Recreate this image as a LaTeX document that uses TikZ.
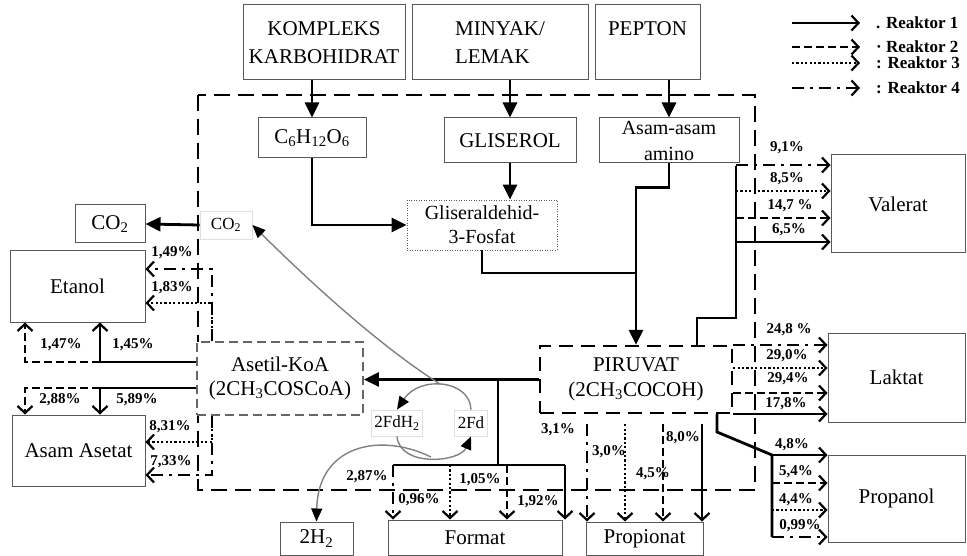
\documentclass[tikz,border=0pt]{standalone}
\usepackage{fontspec}
\setmainfont{Liberation Serif}
\usetikzlibrary{arrows.meta}

\tikzset{
  box/.style={draw=black!65, line width=1pt, fill=white, inner sep=1pt, align=center,
    font=\fontsize{21}{24}\selectfont},
  faint/.style={draw=black!12, line width=0.8pt, fill=white, inner sep=3pt,
    font=\fontsize{17}{20}\selectfont},
  tebal/.style={line width=2.8pt},
  flow/.style={tebal, -{Triangle[length=15pt,width=14pt]}},
  rk1/.style={line width=2.6pt, -{Straight Barb[length=7pt,width=15pt,line width=2.2pt]}},
  rk2/.style={rk1, dash pattern=on 8pt off 4pt},
  rk3/.style={rk1, dash pattern=on 2.2pt off 2.2pt},
  rk4/.style={rk1, dash pattern=on 12pt off 6pt on 3pt off 6pt},
  pct/.style={font=\fontsize{15}{15}\bfseries\selectfont, inner sep=0pt},
  legtext/.style={font=\fontsize{17}{17}\bfseries\selectfont, inner sep=0pt, anchor=west},
  curv/.style={draw=black!50, line width=1.4pt, -{Triangle[length=13pt,width=11pt,color=black]}},
}

\begin{document}
\begin{tikzpicture}[x=1pt, y=-1pt]
\useasboundingbox (0,0) rectangle (967,556);

% --- Parameters ---
\def\xa{25}    % Reaktor 2 branch, left side
\def\xb{100}   % Reaktor 1 branch, left side
\def\xc{212}   % Reaktor 3/4 branch, left side

% --- Reactor boundary ---
\draw[line width=2.6pt, dash pattern=on 16pt off 8pt] (198,95) rectangle (755,490);

% --- Substrates ---
\node[box, minimum width=162pt, minimum height=75pt, font=\fontsize{21}{28}\selectfont]
  (kompleks) at (324,42.5) {KOMPLEKS\\KARBOHIDRAT};
\node[box, minimum width=176pt, minimum height=75pt, align=left, font=\fontsize{21}{28}\selectfont]
  (minyak) at (500,42.5) {MINYAK/\\LEMAK};
\node[box, minimum width=105pt, minimum height=75pt, font=\fontsize{21}{28}\selectfont]
  (pepton) at (647.5,42.5) {PEPTON\\\mbox{}};

% --- Intermediates ---
\node[box, minimum width=108pt, minimum height=40pt] (c6) at (312,138)
  {C\textsubscript{6}H\textsubscript{12}O\textsubscript{6}};
\node[box, minimum width=132pt, minimum height=45pt] (gliserol) at (510,140.5) {GLISEROL};
\node[box, minimum width=140pt, minimum height=45pt, inner sep=0pt, font=\fontsize{20}{26}\selectfont]
  (amino) at (669,140.5) {Asam-asam\\amino};
\node[box, minimum width=150pt, minimum height=50pt, line width=0.9pt, dash pattern=on 1pt off 1.5pt,
  font=\fontsize{20}{24}\selectfont] (glis3) at (482,225) {Gliseraldehid-\\3-Fosfat};
\node[faint, minimum width=52pt, minimum height=28pt] (co2in) at (226,225) {CO\textsubscript{2}};
\node[box, draw=black!60, line width=1.8pt, dash pattern=on 9pt off 5pt, minimum width=166pt,
  minimum height=73pt] (asetil) at (280,378.5) {Asetil-KoA\\(2CH\textsubscript{3}COSCoA)};
\node[box, draw=black, line width=2.4pt, dash pattern=on 14pt off 8pt, minimum width=192pt,
  minimum height=67pt, font=\fontsize{21}{25}\selectfont] (piruvat) at (636,379.5)
  {PIRUVAT\\(2CH\textsubscript{3}COCOH)};
\node[faint, minimum height=26pt] (fdh2) at (397,423) {2FdH\textsubscript{2}};
\node[faint, minimum height=26pt] (fd) at (471,423) {2Fd};

% --- Products ---
\node[box, minimum width=70pt, minimum height=38pt] (co2out) at (110,224) {CO\textsubscript{2}};
\node[box, minimum width=135pt, minimum height=71pt] (etanol) at (77.5,286.5) {Etanol};
\node[box, minimum width=133pt, minimum height=71pt] (asetat) at (78.5,450.5) {Asam Asetat};
\node[box, minimum width=134pt, minimum height=98pt] (valerat) at (898,204) {Valerat};
\node[box, minimum width=137pt, minimum height=89pt] (laktat) at (896.5,377.5) {Laktat};
\node[box, minimum width=137pt, minimum height=87pt] (propanol) at (896.5,498.5) {Propanol};
\node[box, minimum width=73pt, minimum height=33pt] (h2) at (316.5,538.5) {2H\textsubscript{2}};
\node[box, minimum width=174pt, minimum height=35pt] (format) at (475,537.5) {Format};
\node[box, minimum width=117pt, minimum height=33pt] (propionat) at (644.5,538.5) {Propionat};

% --- Main flow ---
\draw[flow] (c6.north |- kompleks.south) -- (c6.north);
\draw[flow] (gliserol.north |- minyak.south) -- (gliserol.north);
\draw[flow] (amino.north |- pepton.south) -- (amino.north);
\draw[flow] (gliserol.south) -- (gliserol.south |- glis3.north);
\draw[flow] (c6.south) |- (glis3.west);
\draw[flow] (amino.south) -- ++(0,24) -| (piruvat.north);
\draw[tebal] (glis3.south) |- (piruvat.north |- 0,273);
\draw[flow] (piruvat.west) -- (piruvat.west -| asetil.east);
\draw[flow] (co2in.west) -- (co2out.east);

% --- Branch to Format ---
\coordinate (cabang) at (498,465);
\coordinate (fkiri) at (393,465);
\coordinate (fkanan) at (565,465);
\draw[tebal] (piruvat.west -| cabang) -- (cabang);
\draw[tebal] (fkiri) -- (fkanan);
\foreach \x/\st in {393/rk4, 450/rk3, 507/rk2, 565/rk1}
  \draw[\st] (fkiri -| \x,0) -- (format.north -| \x,0);

% --- Branch to Propionat ---
\foreach \x/\st in {587/rk4, 625/rk3, 663/rk2, 702/rk1}
  \draw[\st, shorten <=10pt] (piruvat.south -| \x,0) -- (propionat.north -| \x,0);

% --- Branch to Propanol ---
\coordinate (ppn) at (772,455);
\draw[tebal] (piruvat.south -| 717,0) -- (717,432) -- (ppn) -- (772,537);
\foreach \y/\st in {455/rk1, 483/rk2, 510/rk3, 537/rk4}
  \draw[\st] (ppn |- 0,\y) -- (propanol.west |- 0,\y);

% --- Branch to Laktat ---
\foreach \y/\st in {345/rk4, 368/rk3, 393/rk2, 414/rk1}
  \draw[\st] (piruvat.east |- 0,\y) -- (laktat.west |- 0,\y);

% --- Branch to Valerat ---
\coordinate (vsrc) at (736,166);
\draw[tebal] (piruvat.north -| 697,0) |- (736,318) -- (vsrc);
\foreach \y/\st in {165/rk4, 191/rk3, 218/rk2, 242/rk1}
  \draw[\st] (vsrc |- 0,\y) -- (valerat.west |- 0,\y);

% --- Asetil-KoA to Etanol and Asam Asetat ---
\draw[rk1] (asetil.west |- 0,362) -| (etanol.south -| \xb,0);
\draw[rk2] (\xb,362) -| (etanol.south -| \xa,0);
\draw[rk1] (asetil.west |- 0,388) -| (asetat.north -| \xb,0);
\draw[rk2] (\xb,388) -| (asetat.north -| \xa,0);
\draw[rk4] (asetil.north -| \xc,0) |- (etanol.east |- 0,269);
\draw[rk3] (asetil.north -| \xc,0) |- (etanol.east |- 0,303);
\draw[rk3] (asetil.south -| \xc,0) |- (asetat.east |- 0,442);
\draw[rk4] (asetil.south -| \xc,0) |- (asetat.east |- 0,475);

% --- Ferredoxin cycle ---
\coordinate (fdatas) at (440,384);
\coordinate (fdbawah) at (431,457);
\draw[curv] (fd.north) .. controls (470,380) and (420,375) .. (fdh2.north);
\draw[curv] (fdh2.south) .. controls (400,468) and (460,462) .. (fd.south);
\draw[curv] (fdatas) .. controls (370,340) and (290,262) .. (co2in.east);
\draw[curv] (fdbawah) .. controls (380,432) and (318,445) .. (h2.north);

% --- Percentages ---
\foreach \i/\x/\y/\lab in {
    1/787/148/{9,1\%}, 2/787/179/{8,5\%}, 3/790/206/{14,7 \%}, 4/789/230/{6,5\%},
    5/789/330/{24,8 \%}, 6/787/356/{29,0\%}, 7/788/379/{29,4\%}, 8/786/404/{17,8\%},
    9/792/445/{4,8\%}, 10/796/472/{5,4\%}, 11/796/500/{4,4\%}, 12/800/526/{0,99\%},
    13/558/430/{3,1\%}, 14/609/452/{3,0\%}, 15/653/474/{4,5\%}, 16/683/438/{8,0\%},
    17/367/477/{2,87\%}, 18/419/500/{0,96\%}, 19/480/480/{1,05\%}, 20/538/502/{1,92\%},
    21/172/253/{1,49\%}, 22/172/288/{1,83\%}, 23/61/345/{1,47\%}, 24/133/345/{1,45\%},
    25/60/400/{2,88\%}, 26/137/400/{5,89\%}, 27/170/427/{8,31\%}, 28/171/462/{7,33\%}}
  \node[pct] (p\i) at (\x,\y) {\lab};

% --- Legend ---
\foreach \i/\y/\st/\lab in {1/23/rk1/{. Reaktor 1}, 2/47/rk2/{· Reaktor 2},
    3/63/rk3/{: Reaktor 3}, 4/88/rk4/{: Reaktor 4}} {
  \node[legtext] (leg\i) at (876,\y) {\lab};
  \draw[\st] ([xshift=-84pt]leg\i.west) -- ([xshift=-16pt]leg\i.west);
}

\end{tikzpicture}
\end{document}
